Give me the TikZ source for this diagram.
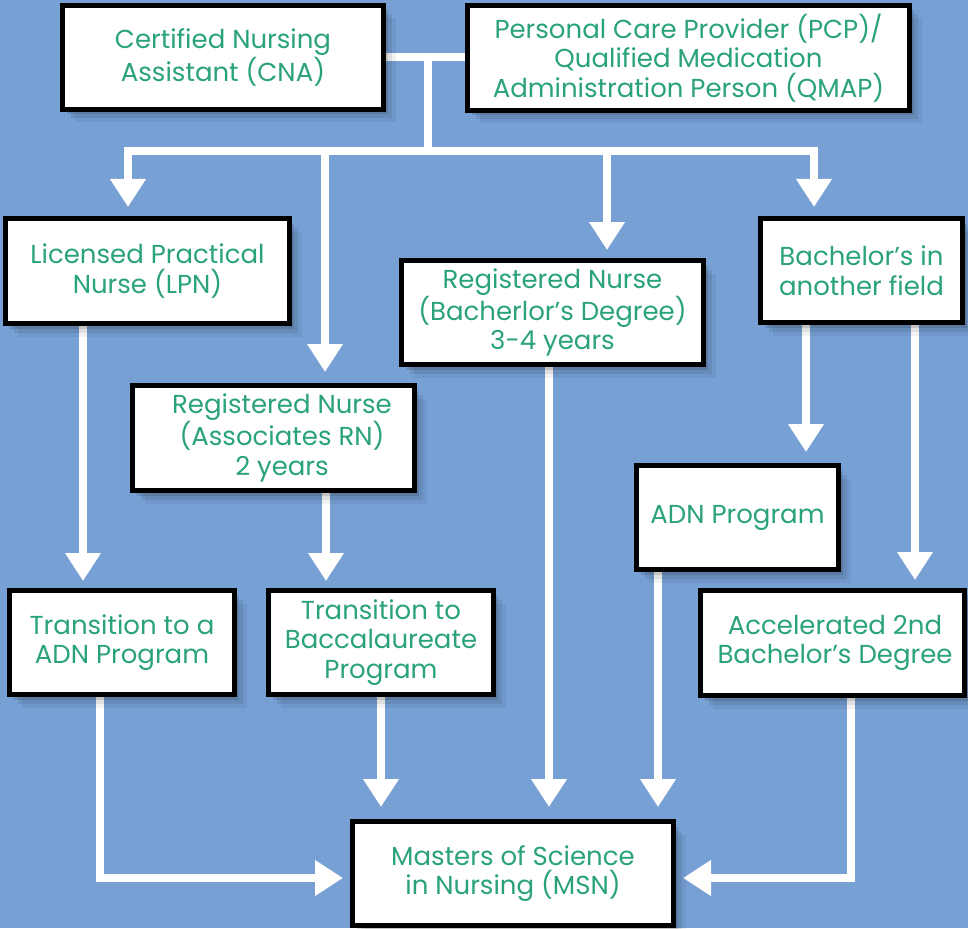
\documentclass[tikz,border=0pt]{standalone}
\usepackage{fontspec}
\setmainfont{Poppins}
\usetikzlibrary{arrows.meta,shadows}
\definecolor{bgblue}{RGB}{119,160,212}
\definecolor{txtgreen}{RGB}{42,162,122}
\begin{document}
\begin{tikzpicture}[x=1pt,y=-1pt,
  box/.style={draw=black, line width=5pt, fill=white, align=center, text=txtgreen,
    font=\fontsize{26}{29.5}\selectfont, inner sep=0pt, minimum height=104pt,
    drop shadow={shadow xshift=4pt,shadow yshift=-5pt,opacity=.12,fill=black},
    drop shadow={shadow xshift=8pt,shadow yshift=-9pt,opacity=.08,fill=black},
    drop shadow={shadow xshift=12pt,shadow yshift=-13pt,opacity=.05,fill=black}},
  slot/.style={minimum height=104pt, inner sep=0pt, outer sep=2.5pt},
  wline/.style={draw=white, line width=8pt, line join=miter},
  arr/.style={draw=white, line width=8pt, line join=miter,
    -{Triangle[width=34pt,length=28pt]}, shorten >=9pt}]
\useasboundingbox (0,0) rectangle (968,928);
\fill[bgblue] (0,0) rectangle (968,928);

% --- node slots (anchors for the connectors) ---
\path node[slot, minimum width=321pt] (cna) at (223,57.5) {}
      node[slot, minimum width=442pt, minimum height=105pt] (pcp) at (688.5,58) {}
      node[slot, minimum width=284pt, minimum height=105pt] (lpn) at (147.5,271) {}
      node[slot, minimum width=302pt] (rnb) at (552.5,312.5) {}
      node[slot, minimum width=202pt] (bao) at (861.5,270.5) {}
      node[slot, minimum width=282pt, minimum height=105pt] (rna) at (273.5,438) {}
      node[slot, minimum width=202pt] (adn) at (737.5,517.5) {}
      node[slot, minimum width=225pt] (tadn) at (122,642.5) {}
      node[slot, minimum width=225pt] (tbac) at (381,642.5) {}
      node[slot, minimum width=264pt, minimum height=105pt] (acc) at (832.5,643) {}
      node[slot, minimum width=321pt] (msn) at (513,873.5) {};

% --- connectors ---
\coordinate (hub) at (428,151);
\draw[wline] (cna.east) -- (cna.east -| pcp.west);
\draw[wline] (428,0 |- cna.east) -- (hub);
\draw[arr] (hub) -| (128,0 |- lpn.north);
\draw[arr, shorten >=11pt] (hub) -| (325,0 |- rna.north);
\draw[arr, shorten >=8pt] (hub) -| (607,0 |- rnb.north);
\draw[arr] (hub) -| (814,0 |- bao.north);
\draw[arr, shorten >=7pt] (83,0 |- lpn.south) -- (83,0 |- tadn.north);
\draw[arr, shorten >=7pt] (326,0 |- rna.south) -- (326,0 |- tbac.north);
\draw[arr, shorten >=12pt] (549,0 |- rnb.south) -- (549,0 |- msn.north);
\draw[arr, shorten >=11pt] (806,0 |- bao.south) -- (806,0 |- adn.north);
\draw[arr, shorten >=8pt] (915,0 |- bao.south) -- (915,0 |- acc.north);
\draw[arr, shorten >=12pt] (658,0 |- adn.south) -- (658,0 |- msn.north);
\draw[arr, shorten >=12pt] (381,0 |- tbac.south) -- (381,0 |- msn.north);
\draw[arr, shorten >=7pt] (100,0 |- tadn.south) |- ([yshift=-4.5pt]msn.west);
\draw[arr, shorten >=7pt] (851,0 |- acc.south) |- ([yshift=-4.5pt]msn.east);

% --- boxes ---
\node[box, minimum width=321pt] (cnaB) at (cna) {Certified Nursing\\Assistant (CNA)};
\node[box, minimum width=442pt, minimum height=105pt] (pcpB) at (pcp) {Personal Care Provider (PCP)/\\Qualified Medication\\Administration Person (QMAP)};
\node[box, minimum width=284pt, minimum height=105pt] (lpnB) at (lpn) {Licensed Practical\\Nurse (LPN)};
\node[box, minimum width=302pt] (rnbB) at (rnb) {Registered Nurse\\(Bacherlor’s Degree)\\3-4 years};
\node[box, minimum width=202pt] (baoB) at (bao) {Bachelor’s in\\another field};
\node[box, minimum width=282pt, minimum height=105pt] (rnaB) at (rna) {\hspace*{17pt}Registered Nurse\\\hspace*{17pt}(Associates RN)\\\hspace*{17pt}2 years};
\node[box, minimum width=202pt] (adnB) at (adn) {ADN Program};
\node[box, minimum width=225pt] (tadnB) at (tadn) {Transition to a\\ADN Program};
\node[box, minimum width=225pt] (tbacB) at (tbac) {Transition to\\Baccalaureate\\Program};
\node[box, minimum width=264pt, minimum height=105pt] (accB) at (acc) {\hspace*{5pt}Accelerated 2nd\\\hspace*{5pt}Bachelor’s Degree};
\node[box, minimum width=321pt] (msnB) at (msn) {Masters of Science\\in Nursing (MSN)};
\end{tikzpicture}
\end{document}
